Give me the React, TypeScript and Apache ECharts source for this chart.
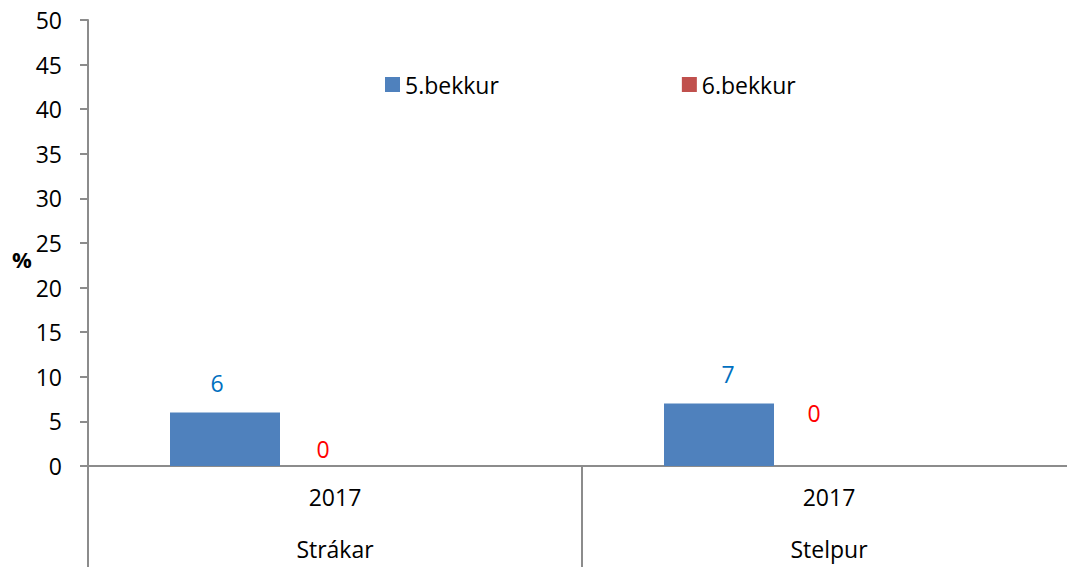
import React, { useEffect, useRef } from "react";
import * as echarts from "echarts";

const years = ["2017", "2017"];
const groups = ["Strákar", "Stelpur"];
const seriesNames = ["5.bekkur", "6.bekkur"];
const bekkur5 = [6, 7];
const bekkur6 = [0, 0];
const yTicks = { min: 0, max: 50, interval: 5 };

const FONT = "'Open Sans', 'Noto Sans', sans-serif";
const AXIS = "#8c8c8c";
const FS = 23;

export default function App() {
  const ref = useRef<HTMLDivElement>(null);
  useEffect(() => {
    if (!ref.current) return;
    const chart = echarts.init(ref.current, undefined, { renderer: "svg" });
    const blueOffsets = [[-8, 0], [9, 0]];
    const redDist = [6, 42];
    const redOffsets = [[-12, 0], [-15, 0]];
    chart.setOption({
      animation: false,
      backgroundColor: "#ffffff",
      textStyle: { fontFamily: FONT },
      grid: { left: 88, top: 20, width: 988, height: 446 },
      legend: {
        data: seriesNames,
        left: 380,
        top: 68,
        itemWidth: 15,
        itemHeight: 15,
        itemGap: 183,
        icon: "rect",
        textStyle: { fontSize: FS, color: "#000", fontFamily: FONT, padding: [0, 0, 0, 0] },
      },
      graphic: [
        {
          type: "text",
          left: 12,
          top: 248,
          style: { text: "%", font: `bold 22px ${FONT}`, fill: "#000" },
        },
      ],
      xAxis: [
        {
          type: "category",
          data: years,
          position: "bottom",
          axisLine: { lineStyle: { color: AXIS, width: 2 } },
          axisTick: { show: true, interval: 0, length: 101, lineStyle: { color: AXIS, width: 2 } },
          axisLabel: { fontSize: FS, color: "#000", margin: 19, fontFamily: FONT },
        },
        {
          type: "category",
          data: groups,
          position: "bottom",
          axisLine: { show: false },
          axisTick: { show: false },
          axisLabel: { fontSize: FS, color: "#000", margin: 71, fontFamily: FONT },
        },
      ],
      yAxis: {
        type: "value",
        min: yTicks.min,
        max: yTicks.max,
        interval: yTicks.interval,
        axisLine: { show: true, lineStyle: { color: AXIS, width: 2 } },
        axisTick: { show: true, length: 8, lineStyle: { color: AXIS, width: 2 } },
        splitLine: { show: false },
        axisLabel: { fontSize: FS, color: "#000", margin: 26, fontFamily: FONT },
      },
      series: [
        {
          name: seriesNames[0],
          type: "bar",
          barWidth: 110,
          barGap: "0%",
          itemStyle: { color: "#4F81BD" },
          data: bekkur5.map((v, i) => ({
            value: v,
            label: { offset: blueOffsets[i] },
          })),
          label: { show: true, position: "top", distance: 18, fontSize: FS, color: "#0070C0", fontFamily: FONT },
        },
        {
          name: seriesNames[1],
          type: "bar",
          barWidth: 110,
          barGap: "0%",
          itemStyle: { color: "#C0504D" },
          data: bekkur6.map((v, i) => ({
            value: v,
            label: { offset: redOffsets[i], distance: redDist[i] },
          })),
          label: { show: true, position: "top", fontSize: FS, color: "#FF0000", fontFamily: FONT },
        },
        {
          name: "",
          type: "bar",
          barWidth: 110,
          barGap: "0%",
          data: ["-", "-"],
        },
      ],
    });
    return () => chart.dispose();
  }, []);
  return (
    <div
      ref={ref}
      style={{ position: "fixed", left: 0, top: 0, width: 1090, height: 567, background: "#fff" }}
    />
  );
}
